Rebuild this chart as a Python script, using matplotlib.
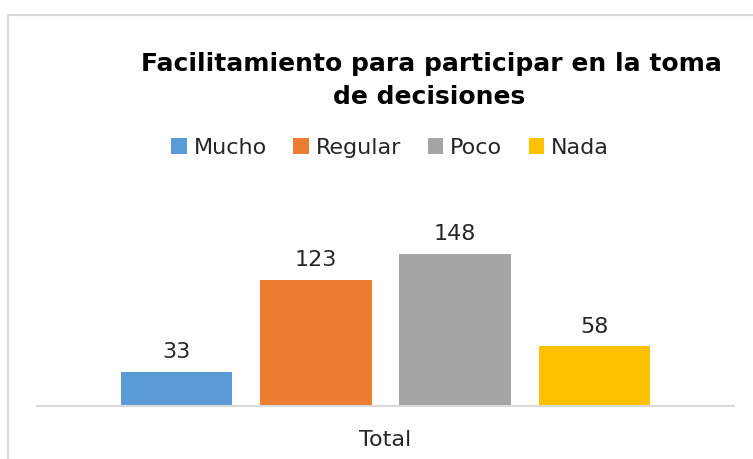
import matplotlib.pyplot as plt
from matplotlib.lines import Line2D
from matplotlib.patches import Patch

# Data
categories = ['Mucho', 'Regular', 'Poco', 'Nada']
values = [33, 123, 148, 58]
colors = ['#5B9BD5', '#ED7D31', '#A5A5A5', '#FFC000']
group_label = 'Total'

W, H = 753, 459
fig = plt.figure(figsize=(W / 100, H / 100), dpi=100)
fig.patch.set_facecolor('white')

# Chart area border (cropped on the right and bottom)
border = '#d9d9d9'
fig.add_artist(Line2D([8 / W, 1.0], [1 - 15 / H, 1 - 15 / H], color=border, lw=1.5))
fig.add_artist(Line2D([8 / W, 8 / W], [0.0, 1 - 15 / H], color=border, lw=1.5))

# Plot area
ax = fig.add_axes([37 / W, 1 - 406 / H, (734 - 37) / W, (406 - 200) / H])
x = list(range(len(categories)))
bars = ax.bar(x, values, width=0.8, color=colors, zorder=2)
ax.set_xlim(-1.0, 4.0)
ax.set_ylim(0, 200.6)

text_color = '#262626'
for b, v in zip(bars, values):
    ax.annotate(str(v), (b.get_x() + b.get_width() / 2, v), xytext=(0, 7),
                textcoords='offset points', ha='center', va='bottom',
                fontsize=16, color=text_color)

for s in ['top', 'right', 'left']:
    ax.spines[s].set_visible(False)
ax.spines['bottom'].set_color(border)
ax.spines['bottom'].set_linewidth(1.5)
ax.set_yticks([])
ax.set_xticks([1.5])
ax.set_xticklabels([group_label], fontsize=16, color=text_color)
ax.tick_params(axis='x', length=0, pad=17)

# Title
fig.text(431 / W, 1 - 64 / H, 'Facilitamiento para participar en la toma',
         ha='center', va='center', fontsize=18, fontweight='bold', color='black')
fig.text(429 / W, 1 - 97 / H, 'de decisiones',
         ha='center', va='center', fontsize=18, fontweight='bold', color='black')

# Legend
handles = [Patch(facecolor=c, edgecolor='none') for c in colors]
fig.legend(handles, categories, loc='center', bbox_to_anchor=(390 / W, 1 - 148 / H),
           ncol=4, frameon=False, fontsize=16, handlelength=0.7, handleheight=0.7,
           handletextpad=0.3, columnspacing=1.2, labelcolor=text_color)

fig.savefig('out.png', dpi=100, facecolor='white')
